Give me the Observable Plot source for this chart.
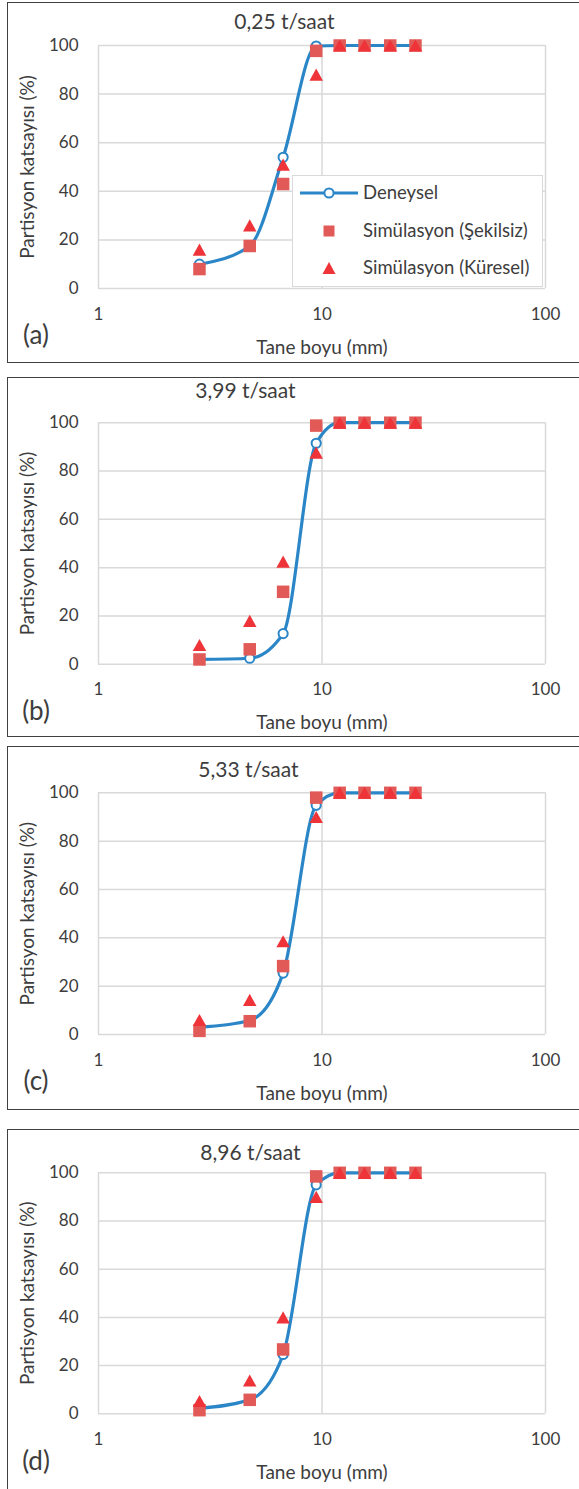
<!DOCTYPE html>
<html>
<head>
<meta charset="utf-8">
<script src="https://cdn.jsdelivr.net/npm/d3@7"></script>
<script src="https://cdn.jsdelivr.net/npm/@observablehq/plot@0.6"></script>
<style>
  html, body { margin: 0; padding: 0; background: #fff; }
  #page { position: relative; width: 579px; height: 1489px; overflow: hidden; font-family: Lato, sans-serif; }
  .frame { position: absolute; border: 1.5px solid #404040; box-sizing: border-box; }
  .panel { position: absolute; left: 0; }
  .legend { position: absolute; background: #fff; border: 1.5px solid #d9d9d9; box-sizing: border-box; }
</style>
</head>
<body>
<div id="page"></div>
<script>
// ---- data ----
const sizes = [2.83, 4.75, 6.7, 9.42, 12, 15.5, 20.2, 26.2];   // Tane boyu (mm)
const xTicks = [1, 10, 100];
const yTicks = [0, 20, 40, 60, 80, 100];
const seriesNames = ["Deneysel", "Simülasyon (Şekilsiz)", "Simülasyon (Küresel)"];

const titles = ["0,25 t/saat", "3,99 t/saat", "5,33 t/saat", "8,96 t/saat"];
const letters = ["(a)", "(b)", "(c)", "(d)"];

const denA = [10, 17.5, 54, 99.8, 100, 100, 100, 100];
const sekA = [8, 17.5, 43, 97.8, 100, 100, 100, 100];
const kurA = [16, 26, 51, 88, 100, 100, 100, 100];

const denB = [2, 2.5, 12.7, 91.5, 100, 100, 100, 100];
const sekB = [2, 6.2, 30, 98.8, 100, 100, 100, 100];
const kurB = [8, 18, 42.5, 87.6, 100, 100, 100, 100];

const denC = [3, 5.8, 25.4, 94.8, 100, 100, 100, 100];
const sekC = [1.5, 5.5, 28.3, 98, 100, 100, 100, 100];
const kurC = [6, 14.3, 38.6, 90, 100, 100, 100, 100];

const denD = [2.3, 5.8, 24.6, 95, 100, 100, 100, 100];
const sekD = [1.5, 5.8, 26.7, 98.5, 100, 100, 100, 100];
const kurD = [5.3, 13.8, 40, 90, 100, 100, 100, 100];

const seriesByPanel = [
  [denA, sekA, kurA],
  [denB, sekB, kurB],
  [denC, sekC, kurC],
  [denD, sekD, kurD]
];

// ---- layout (pixels) ----
const layout = [
  {y100: 45,    y0: 288,    bTop: 2,    bBot: 363,  titleX: 284, titleY: 22},
  {y100: 421.7, y0: 663.3,  bTop: 376.5, bBot: 737, titleX: 245, titleY: 390.5},
  {y100: 792.3, y0: 1034,   bTop: 746,  bBot: 1110, titleX: 248, titleY: 770},
  {y100: 1172.3, y0: 1413.3, bTop: 1129, bBot: 1500, titleX: 250, titleY: 1153}
];
const plotLeft = 98, plotRight = 545, W = 579;

const BLUE = "#2b86c8", SQ = "#e15a57", TRI = "#ee3339";
const TEXT = "#3d3d3d", GRID = "#d9d9d9";

const squareSym = {draw(ctx, size) { const s = Math.sqrt(size) / 2; ctx.moveTo(-s, -s); ctx.lineTo(s, -s); ctx.lineTo(s, s); ctx.lineTo(-s, s); ctx.closePath(); }};
const triSym = {draw(ctx, size) { const s = Math.sqrt(size); const h = s * 0.9; ctx.moveTo(0, -h / 2); ctx.lineTo(s / 2, h / 2); ctx.lineTo(-s / 2, h / 2); ctx.closePath(); }};
const SQ_SIDE = 12.5, TRI_SIDE = 13.5;
const rFor = side => side / Math.sqrt(Math.PI);

const page = document.getElementById("page");

layout.forEach((L, i) => {
  const [den, sek, kur] = seriesByPanel[i];
  const rows = sizes.map((x, j) => ({x, den: den[j], sek: sek[j], kur: kur[j]}));

  const frame = document.createElement("div");
  frame.className = "frame";
  frame.style.left = "7px";
  frame.style.top = L.bTop + "px";
  frame.style.width = (W + 10 - 7) + "px";
  frame.style.height = (L.bBot - L.bTop) + "px";
  page.appendChild(frame);

  const svgTop = L.bTop;
  const mt = L.y100 - svgTop;
  const H = (L.bBot - svgTop) + 2;
  const mb = H - (L.y0 - svgTop);
  const cx = (plotLeft + plotRight) / 2;
  const cy = (L.y100 + L.y0) / 2;

  const chart = Plot.plot({
    width: W, height: H,
    marginLeft: plotLeft, marginRight: W - plotRight, marginTop: mt, marginBottom: mb,
    x: {type: "log", domain: [1, 100]},
    y: {domain: [0, 100]},
    style: {fontFamily: "Lato, sans-serif", color: TEXT, background: "transparent", overflow: "visible"},
    marks: [
      Plot.gridX(xTicks, {stroke: GRID, strokeOpacity: 1, strokeWidth: 1.5}),
      Plot.gridY(yTicks, {stroke: GRID, strokeOpacity: 1, strokeWidth: 1.5}),
      Plot.axisX(xTicks, {tickSize: 0, tickPadding: 19, tickFormat: d => String(d), label: null, fontSize: 17, fill: TEXT}),
      Plot.axisY(yTicks, {tickSize: 0, tickPadding: 20, tickFormat: d => String(d), label: null, fontSize: 17, fill: TEXT}),
      Plot.line(rows, {x: "x", y: "den", curve: "monotone-x", stroke: BLUE, strokeWidth: 3.2}),
      Plot.dot(rows, {x: "x", y: "den", r: 4.6, fill: "white", stroke: BLUE, strokeWidth: 2}),
      Plot.dot(rows, {x: "x", y: "sek", symbol: squareSym, r: rFor(SQ_SIDE), fill: SQ, stroke: "none"}),
      Plot.dot(rows, {x: "x", y: "kur", symbol: triSym, r: rFor(TRI_SIDE), fill: TRI, stroke: "none"}),
      Plot.text([titles[i]], {text: d => d, frameAnchor: "top", textAnchor: "middle", lineAnchor: "middle", dx: L.titleX - cx, dy: L.titleY - L.y100, fontSize: 21, fill: TEXT}),
      Plot.text(["Partisyon katsayısı (%)"], {text: d => d, frameAnchor: "left", textAnchor: "middle", lineAnchor: "middle", rotate: -90, dx: 27 - plotLeft, fontSize: 19, fill: TEXT}),
      Plot.text(["Tane boyu (mm)"], {text: d => d, frameAnchor: "bottom", textAnchor: "middle", lineAnchor: "middle", dy: 59, fontSize: 19, fill: TEXT}),
      Plot.text([letters[i]], {text: d => d, frameAnchor: "bottom-left", textAnchor: "middle", lineAnchor: "middle", dx: 35.5 - plotLeft, dy: 47.5, fontSize: 26, fill: TEXT})
    ]
  });
  const wrap = document.createElement("div");
  wrap.className = "panel";
  wrap.style.top = svgTop + "px";
  wrap.appendChild(chart);
  page.appendChild(wrap);

  if (i === 0) {
    const lg = document.createElement("div");
    lg.className = "legend";
    lg.style.left = "292px"; lg.style.top = "175px"; lg.style.width = "251px"; lg.style.height = "112px";
    const ns = "http://www.w3.org/2000/svg";
    const svg = document.createElementNS(ns, "svg");
    svg.setAttribute("width", 251); svg.setAttribute("height", 112);
    svg.style.position = "absolute"; svg.style.left = "-1.5px"; svg.style.top = "-1.5px";
    const rowsY = [18, 56, 93];
    const sx = 37, tx = 71;
    // Deneysel
    let el = document.createElementNS(ns, "line");
    el.setAttribute("x1", 8); el.setAttribute("x2", 66); el.setAttribute("y1", rowsY[0]); el.setAttribute("y2", rowsY[0]);
    el.setAttribute("stroke", BLUE); el.setAttribute("stroke-width", 3.2); svg.appendChild(el);
    el = document.createElementNS(ns, "circle");
    el.setAttribute("cx", sx); el.setAttribute("cy", rowsY[0]); el.setAttribute("r", 4.6);
    el.setAttribute("fill", "white"); el.setAttribute("stroke", BLUE); el.setAttribute("stroke-width", 2); svg.appendChild(el);
    el = document.createElementNS(ns, "rect");
    el.setAttribute("x", sx - 5.5); el.setAttribute("y", rowsY[1] - 5.5); el.setAttribute("width", 11); el.setAttribute("height", 11);
    el.setAttribute("fill", SQ); svg.appendChild(el);
    el = document.createElementNS(ns, "path");
    el.setAttribute("d", `M${sx},${rowsY[2] - 6}L${sx + 6.5},${rowsY[2] + 6}L${sx - 6.5},${rowsY[2] + 6}Z`);
    el.setAttribute("fill", TRI); svg.appendChild(el);
    seriesNames.forEach((name, k) => {
      const t = document.createElementNS(ns, "text");
      t.setAttribute("x", tx); t.setAttribute("y", rowsY[k]); t.setAttribute("dy", "0.35em");
      t.setAttribute("font-family", "Lato, sans-serif"); t.setAttribute("font-size", 18.5); t.setAttribute("fill", TEXT);
      t.textContent = name;
      svg.appendChild(t);
    });
    lg.appendChild(svg);
    page.appendChild(lg);
  }
});
</script>
</body>
</html>
